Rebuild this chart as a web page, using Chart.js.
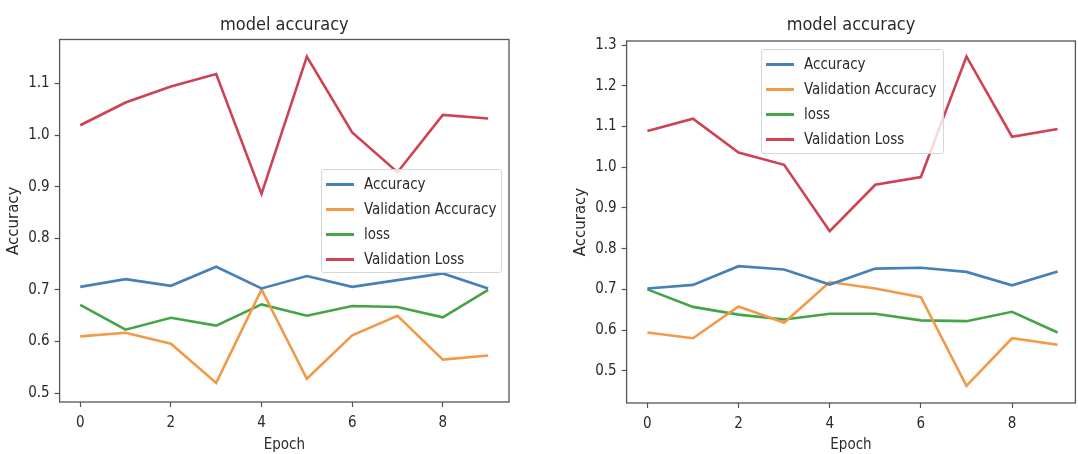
<!DOCTYPE html>
<html>
<head>
<meta charset="utf-8">
<script src="https://cdn.jsdelivr.net/npm/chart.js@4.4.1/dist/chart.umd.min.js"></script>
<style>
  html, body { margin: 0; padding: 0; background: #fff; }
  #wrap { position: relative; width: 1078px; height: 454px; overflow: hidden; }
  canvas { position: absolute; top: 0; }
  .legend {
    position: absolute;
    box-sizing: border-box;
    background: rgba(255,255,255,0.8);
    border: 1px solid #d6d6d6;
    border-radius: 3px;
    font: 15px 'DejaVu Sans Condensed', 'DejaVu Sans', sans-serif;
    color: #2a2a2a;
  }
  .legend .row { position: absolute; height: 18px; line-height: 18px; white-space: nowrap; }
  .legend .swatch { position: absolute; top: 8px; height: 3px; width: 28px; }
  .legend .label { position: absolute; left: 38px; top: 0; }
</style>
</head>
<body>
<div id="wrap">
  <canvas id="left" width="540" height="454" style="left:0"></canvas>
  <canvas id="right" width="538" height="454" style="left:540px"></canvas>
</div>
<script>
// epochs and tick labels
var epochs = [0, 1, 2, 3, 4, 5, 6, 7, 8, 9];
var xTicks = [0, 2, 4, 6, 8];
var yTicksLeft = [0.5, 0.6, 0.7, 0.8, 0.9, 1.0, 1.1];
var yTicksRight = [0.5, 0.6, 0.7, 0.8, 0.9, 1.0, 1.1, 1.2, 1.3];

var seriesNames = ['Accuracy', 'Validation Accuracy', 'loss', 'Validation Loss'];
var seriesColors = ['#4680b8', '#f29a48', '#45a447', '#cf4253'];

// left panel
var accLeft = [0.706, 0.721, 0.708, 0.745, 0.703, 0.727, 0.706, 0.719, 0.732, 0.703];
var valAccLeft = [0.610, 0.617, 0.596, 0.520, 0.701, 0.528, 0.612, 0.650, 0.565, 0.573];
var lossLeft = [0.671, 0.623, 0.646, 0.631, 0.672, 0.650, 0.669, 0.667, 0.647, 0.700];
var valLossLeft = [1.019, 1.063, 1.094, 1.118, 0.886, 1.152, 1.005, 0.928, 1.039, 1.032];

// right panel
var accRight = [0.702, 0.711, 0.757, 0.749, 0.712, 0.751, 0.753, 0.743, 0.710, 0.744];
var valAccRight = [0.594, 0.580, 0.658, 0.618, 0.718, 0.702, 0.681, 0.463, 0.580, 0.564];
var lossRight = [0.700, 0.657, 0.638, 0.626, 0.640, 0.640, 0.624, 0.622, 0.645, 0.594];
var valLossRight = [1.089, 1.119, 1.036, 1.006, 0.843, 0.957, 0.976, 1.272, 1.075, 1.094];

var condensed = "'DejaVu Sans Condensed', 'DejaVu Sans', sans-serif";
var textColor = '#2a2a2a';

// matplotlib-style box around the axes
var framePlugin = {
  id: 'frame',
  afterDraw: function (chart) {
    var a = chart.chartArea, ctx = chart.ctx;
    ctx.save();
    ctx.strokeStyle = '#555';
    ctx.lineWidth = 1.3;
    ctx.strokeRect(a.left, a.top, a.right - a.left, a.bottom - a.top);
    ctx.restore();
  }
};

function makeChart(id, series, opts) {
  var datasets = series.map(function (vals, i) {
    return {
      label: seriesNames[i],
      data: epochs.map(function (e, j) { return {x: e, y: vals[j]}; }),
      borderColor: seriesColors[i],
      backgroundColor: seriesColors[i],
      borderWidth: 2.6,
      pointRadius: 0,
      tension: 0,
      fill: false
    };
  });
  return new Chart(document.getElementById(id).getContext('2d'), {
    type: 'line',
    data: {datasets: datasets},
    plugins: [framePlugin],
    options: {
      responsive: false,
      animation: false,
      events: [],
      layout: {padding: {left: opts.padLeft, right: opts.padRight, top: 0, bottom: 0}},
      plugins: {
        legend: {display: false},
        tooltip: {enabled: false},
        title: {
          display: true,
          text: 'model accuracy',
          fullSize: false,
          color: textColor,
          font: {family: condensed, size: 18, weight: 'normal'},
          padding: {top: 14.2, bottom: opts.titleBottom}
        }
      },
      scales: {
        x: {
          type: 'linear',
          min: opts.xMin,
          max: opts.xMax,
          afterBuildTicks: function (scale) {
            scale.ticks = xTicks.map(function (v) { return {value: v}; });
          },
          afterFit: function (scale) { scale.height = opts.xHeight; },
          grid: {drawOnChartArea: false, drawTicks: true, tickLength: 5, tickColor: '#555', tickWidth: 1.2},
          border: {display: false},
          ticks: {
            color: textColor,
            padding: 7,
            maxRotation: 0,
            font: {family: condensed, size: 15},
            callback: function (v) { return String(v); }
          },
          title: {
            display: true,
            text: 'Epoch',
            color: textColor,
            font: {family: condensed, size: 15},
            padding: {top: 0, bottom: 0}
          }
        },
        y: {
          type: 'linear',
          min: opts.yMin,
          max: opts.yMax,
          afterBuildTicks: function (scale) {
            scale.ticks = opts.yTicks.map(function (v) { return {value: v}; });
          },
          afterFit: function (scale) { scale.width = opts.yWidth; },
          grid: {drawOnChartArea: false, drawTicks: true, tickLength: 5, tickColor: '#555', tickWidth: 1.2},
          border: {display: false},
          ticks: {
            color: textColor,
            padding: 5,
            font: {family: condensed, size: 15},
            callback: function (v) { return v.toFixed(1); }
          },
          title: {
            display: true,
            text: 'Accuracy',
            color: textColor,
            font: {family: "'DejaVu Sans', sans-serif", size: 15},
            padding: {top: 4.8, bottom: 0}
          }
        }
      }
    }
  });
}

function makeLegend(left, top, width, height) {
  var box = document.createElement('div');
  box.className = 'legend';
  box.style.left = left + 'px';
  box.style.top = top + 'px';
  box.style.width = width + 'px';
  box.style.height = height + 'px';
  seriesNames.forEach(function (name, i) {
    var row = document.createElement('div');
    row.className = 'row';
    row.style.left = '4px';
    row.style.top = (5 + i * 25) + 'px';
    var sw = document.createElement('div');
    sw.className = 'swatch';
    sw.style.background = seriesColors[i];
    var lb = document.createElement('span');
    lb.className = 'label';
    lb.textContent = name;
    row.appendChild(sw);
    row.appendChild(lb);
    box.appendChild(row);
  });
  document.getElementById('wrap').appendChild(box);
}

makeChart('left', [accLeft, valAccLeft, lossLeft, valLossLeft], {
  padLeft: 0, padRight: 31, titleBottom: 3.7,
  xMin: -0.455, xMax: 9.46, xHeight: 52,
  yMin: 0.483, yMax: 1.185, yWidth: 59.6, yTicks: yTicksLeft
});

makeChart('right', [accRight, valAccRight, lossRight, valLossRight], {
  padLeft: 27.7, padRight: 2.6, titleBottom: 5.2,
  xMin: -0.456, xMax: 9.39, xHeight: 51,
  yMin: 0.421, yMax: 1.31, yWidth: 58.9, yTicks: yTicksRight
});

makeLegend(321, 169, 181, 104);
makeLegend(761, 49, 183, 105);
</script>
</body>
</html>
